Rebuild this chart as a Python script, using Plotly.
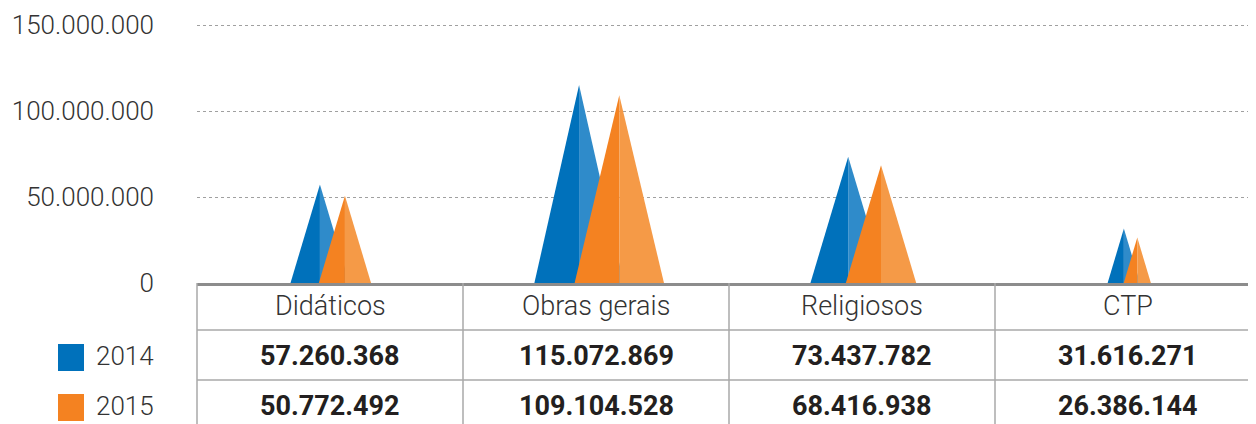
import plotly.graph_objects as go

# Data
categories = ["Didáticos", "Obras gerais", "Religiosos", "CTP"]
years = ["2014", "2015"]
values_2014 = [57260368, 115072869, 73437782, 31616271]
values_2015 = [50772492, 109104528, 68416938, 26386144]
y_ticks = [0, 50000000, 100000000, 150000000]

# (values, dark half, light half, side of the pair)
_SERIES = [
    (values_2014, "#0071bb", "#2f8bca", -1),
    (values_2015, "#f48221", "#f59a47", 1),
]

_FONT = "Roboto, 'Open Sans', sans-serif"
_GRID = "#a0a0a0"

# the page body has an 8px margin, so the figure starts at (8, 8)
OFF = 8
PAGE_W, PAGE_H = 1256, 424
W, H = PAGE_W - OFF, PAGE_H - OFF
# page-pixel positions of plot left, plot top, zero line
L_PX, T_PX, B_PX = 197, 18, 283
COL_PX = 266  # width of one category column; the last one runs off the page
X_RANGE = [-0.5, -0.5 + (PAGE_W - L_PX) / COL_PX]


def fmt(v):
    return f"{v:,}".replace(",", ".")


def py(px):
    """page pixel row -> paper y"""
    return (B_PX - px) / (B_PX - T_PX)


def pxx(px):
    """page pixel column -> paper x"""
    return (px - L_PX) / (PAGE_W - L_PX)


def dx(x):
    """x data value -> paper x"""
    return (x - X_RANGE[0]) / (X_RANGE[1] - X_RANGE[0])


fig = go.Figure()

for vals, dark, light, side in _SERIES:
    for i, v in enumerate(vals):
        hw = min(v / 150e6 * 0.29, 0.168)
        apex = i + 0.012 + side * 0.45 * hw
        fig.add_trace(go.Scatter(
            x=[apex - hw, apex, apex, apex - hw], y=[0, v, 0, 0],
            fill="toself", fillcolor=dark, mode="lines",
            line=dict(width=0, color=dark), hoverinfo="skip", showlegend=False,
        ))
        fig.add_trace(go.Scatter(
            x=[apex, apex, apex + hw, apex], y=[0, v, 0, 0],
            fill="toself", fillcolor=light, mode="lines",
            line=dict(width=0, color=light), hoverinfo="skip", showlegend=False,
        ))

fig.update_layout(
    width=W, height=H,
    margin=dict(l=L_PX - OFF, r=0, t=T_PX - OFF, b=PAGE_H - B_PX),
    paper_bgcolor="white", plot_bgcolor="white",
    separators=",.",
    showlegend=False,
    font=dict(family=_FONT, color="#333333"),
)
fig.update_xaxes(
    range=X_RANGE, showticklabels=False, showgrid=False, zeroline=False,
    showline=True, linecolor="#8c8c8c", linewidth=3, fixedrange=True,
)
fig.update_yaxes(
    range=[0, 150e6 * (B_PX - T_PX) / (B_PX - 25)],
    tickvals=y_ticks, ticktext=[fmt(v) for v in y_ticks],
    tickfont=dict(family=_FONT, size=26, color="#333333", weight=300),
    ticklabelstandoff=42,
    showgrid=True, gridcolor=_GRID, gridwidth=1, griddash="dot",
    zeroline=False, showline=False, fixedrange=True,
)

# ─── table below the axis ────────────────────────────────────────────────
shapes = []
for px_row in (330, 380):
    shapes.append(dict(type="line", xref="paper", yref="paper",
                       x0=0, x1=1, y0=py(px_row), y1=py(px_row),
                       line=dict(color="#a8a8a8", width=1.5)))
n = len(categories)
for k in range(n):
    shapes.append(dict(type="line", xref="paper", yref="paper",
                       x0=dx(k - 0.5), x1=dx(k - 0.5),
                       y0=0, y1=py(430), line=dict(color="#a8a8a8", width=1.5)))

annotations = []
for i, cat in enumerate(categories):
    xc = dx(i)
    annotations.append(dict(x=xc, y=py(306), xref="paper", yref="paper", text=cat,
                            showarrow=False, xanchor="center", yanchor="middle",
                            font=dict(family=_FONT, size=27, color="#333333", weight=300)))
    for row_px, vals in ((356, values_2014), (406, values_2015)):
        annotations.append(dict(x=xc, y=py(row_px), xref="paper", yref="paper",
                                text=f"<b>{fmt(vals[i])}</b>", showarrow=False,
                                xanchor="center", yanchor="middle",
                                font=dict(family=_FONT, size=27, color="#231f20")))

# legend squares + years on the left
for (vals, dark, light, side), year, top in zip(_SERIES, years, (344, 394)):
    shapes.append(dict(type="rect", xref="paper", yref="paper",
                       x0=pxx(58), x1=pxx(84), y0=py(top), y1=py(top + 27),
                       fillcolor=dark, line=dict(width=0)))
    annotations.append(dict(x=pxx(156), y=py(top + 12), xref="paper", yref="paper",
                            text=year, showarrow=False, xanchor="right", yanchor="middle",
                            font=dict(family=_FONT, size=26, color="#333333", weight=300)))

fig.update_layout(shapes=shapes, annotations=annotations)

fig.write_html("out.html")
